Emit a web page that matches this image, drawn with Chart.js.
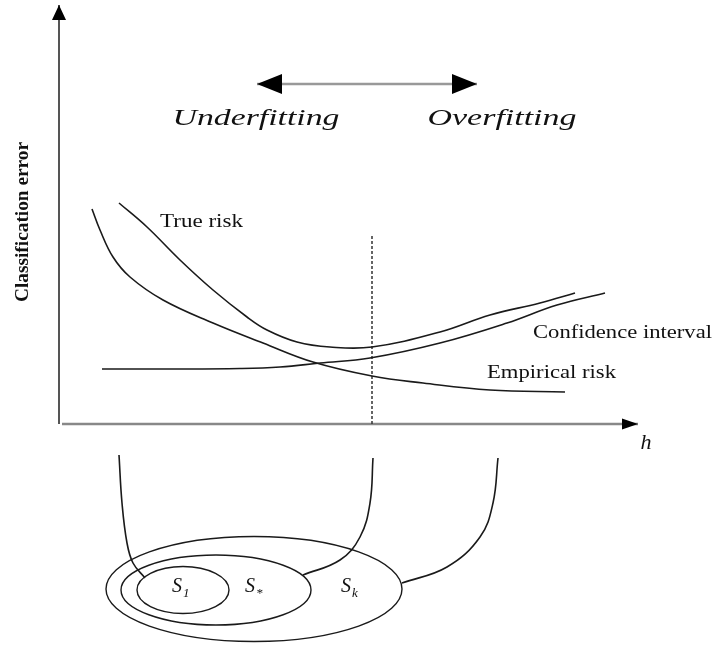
<!DOCTYPE html>
<html lang="en">
<head>
<meta charset="UTF-8">
<title>Structural risk minimisation</title>
<script src="https://cdn.jsdelivr.net/npm/chart.js"></script>
<style>
  body { margin: 0; background: #fff; }
  .wrap { width: 716px; height: 646px; }
</style>
</head>
<body>
<div class="wrap"><canvas id="chart"></canvas></div>
<script>
// h along x, classification error along y (schematic units)
const trueRiskH   = [5.9, 8.7, 12.0, 15.3, 18.7, 20.7, 23.7, 27.0, 31.2, 38.0, 43.0, 48.0, 51.5];
const trueRiskErr = [22.1, 19.7, 16.4, 13.4, 10.7, 9.4, 8.2, 7.7, 7.7, 9.2, 10.9, 12.1, 13.1];

const empRiskH   = [3.2, 4.0, 5.3, 7.0, 10.3, 15.3, 20.3, 25.3, 31.2, 36.3, 43.0, 50.5];
const empRiskErr = [21.5, 19.4, 16.7, 14.7, 12.4, 10.1, 8.1, 6.2, 4.8, 4.1, 3.4, 3.2];

const confH   = [4.2, 11.0, 18.0, 22.0, 26.0, 31.0, 38.0, 44.7, 49.7, 54.5];
const confErr = [5.5, 5.5, 5.55, 5.7, 6.1, 6.6, 8.1, 10.1, 11.9, 13.1];

// best capacity h*
const bestH = 31.2;
const bestTop = 18.8;

// links from h values down to the nested structure
const linkS1H   = [5.9, 6.2, 6.7, 7.3, 8.5];
const linkS1Err = [-3.1, -7.9, -11.9, -13.9, -15.4];
const linkSsH   = [31.3, 31.0, 30.0, 28.0, 24.3];
const linkSsErr = [-3.4, -7.9, -11.3, -13.6, -15.1];
const linkSkH   = [43.8, 43.3, 42.0, 38.7, 34.2];
const linkSkErr = [-3.4, -7.9, -11.3, -14.3, -15.9];

// nested sets S1 ⊂ S* ⊂ Sk
const nestNames   = ['Sk', 'S*', 'S1'];
const nestH       = [19.4, 15.6, 12.3];
const nestErr     = [-16.5, -16.6, -16.6];
const nestSpreadH = [14.8, 9.5, 4.6];
const nestSpreadE = [5.25, 3.5, 2.35];

const zip = (xs, ys) => xs.map((v, i) => ({ x: v, y: ys[i] }));

const notes = [
  { text: 'Underfitting', h: 19.6, err: 29.9, font: 'italic 24px "Liberation Serif"', width: 167, baseline: 'alphabetic' },
  { text: 'Overfitting', h: 44.2, err: 29.9, font: 'italic 24px "Liberation Serif"', width: 149, baseline: 'alphabetic' },
  { text: 'True risk', h: 10.0, err: 20.2, font: '19px "Liberation Serif"', width: 83, align: 'left' },
  { text: 'Confidence interval', h: 47.3, err: 9.1, font: '19px "Liberation Serif"', width: 179, align: 'left' },
  { text: 'Empirical risk', h: 42.7, err: 5.1, font: '19px "Liberation Serif"', width: 129, align: 'left' },
  { text: 'h', h: 58.6, err: -1.9, font: 'italic 22px "Liberation Serif"' },
  { text: 'Classification error', h: -3.7, err: 20.2, font: 'bold 18px "Liberation Serif"', width: 160, rotate: -Math.PI / 2 },
  { text: 'S', sub: '1', h: 11.2, err: -16.3, font: 'italic 20px "Liberation Serif"', align: 'left' },
  { text: 'S', sub: '*', h: 18.5, err: -16.3, font: 'italic 20px "Liberation Serif"', align: 'left' },
  { text: 'S', sub: 'k', h: 28.1, err: -16.3, font: 'italic 20px "Liberation Serif"', align: 'left' }
];

const textPlugin = {
  id: 'texts',
  afterDatasetsDraw(chart) {
    const { ctx, scales: { x, y } } = chart;
    notes.forEach(n => {
      ctx.save();
      ctx.translate(x.getPixelForValue(n.h), y.getPixelForValue(n.err));
      if (n.rotate) ctx.rotate(n.rotate);
      ctx.font = n.font;
      ctx.fillStyle = '#111';
      ctx.textAlign = n.align || 'center';
      ctx.textBaseline = n.baseline || 'middle';
      const w = ctx.measureText(n.text).width;
      if (n.width) ctx.scale(n.width / w, 1);
      ctx.fillText(n.text, 0, 0);
      if (n.sub) {
        ctx.font = 'italic 13px "Liberation Serif"';
        ctx.textAlign = 'left';
        ctx.fillText(n.sub, w + 1, 7);
      }
      ctx.restore();
    });
  }
};

const arrowPlugin = {
  id: 'arrows',
  afterDatasetsDraw(chart) {
    const ctx = chart.ctx;
    chart.data.datasets.forEach((ds, i) => {
      if (!ds.heads) return;
      const pts = chart.getDatasetMeta(i).data;
      ds.heads.forEach(hd => {
        const a = hd.at === 'end' ? pts[pts.length - 2] : pts[1];
        const b = hd.at === 'end' ? pts[pts.length - 1] : pts[0];
        ctx.save();
        ctx.translate(b.x, b.y);
        ctx.rotate(Math.atan2(b.y - a.y, b.x - a.x));
        ctx.beginPath();
        ctx.moveTo(0, 0);
        ctx.lineTo(-hd.len, -hd.half);
        ctx.lineTo(-hd.len, hd.half);
        ctx.closePath();
        ctx.fillStyle = '#000';
        ctx.fill();
        ctx.restore();
      });
    });
  }
};

const nestPlugin = {
  id: 'nest',
  afterDatasetsDraw(chart) {
    const { ctx, scales: { x, y } } = chart;
    ctx.save();
    ctx.strokeStyle = '#1a1a1a';
    ctx.lineWidth = 1.4;
    nestNames.forEach((name, i) => {
      const cx = x.getPixelForValue(nestH[i]);
      const cy = y.getPixelForValue(nestErr[i]);
      const rx = x.getPixelForValue(nestH[i] + nestSpreadH[i]) - cx;
      const ry = cy - y.getPixelForValue(nestErr[i] + nestSpreadE[i]);
      ctx.beginPath();
      ctx.ellipse(cx, cy, rx, ry, 0, 0, Math.PI * 2);
      ctx.stroke();
    });
    ctx.restore();
  }
};

const curve = (data, extra) => Object.assign({
  data, showLine: true, borderColor: '#1a1a1a', borderWidth: 1.6,
  pointRadius: 0, fill: false, tension: 0.4
}, extra);

new Chart(document.getElementById('chart'), {
  type: 'scatter',
  data: {
    datasets: [
      curve(zip(trueRiskH, trueRiskErr)),
      curve(zip(empRiskH, empRiskErr)),
      curve(zip(confH, confErr)),
      curve([{ x: bestH, y: 0 }, { x: bestH, y: bestTop }], { borderDash: [3, 2], borderWidth: 1.5, borderColor: '#333', tension: 0 }),
      curve(zip(linkS1H, linkS1Err)),
      curve(zip(linkSsH, linkSsErr)),
      curve(zip(linkSkH, linkSkErr)),
      // axes
      curve([{ x: -0.1, y: 0 }, { x: -0.1, y: 41.9 }], { borderColor: '#555', borderWidth: 2, tension: 0, heads: [{ at: 'end', len: 15, half: 7 }] }),
      curve([{ x: 0.2, y: 0 }, { x: 57.8, y: 0 }], { borderColor: '#888', borderWidth: 2.5, tension: 0, heads: [{ at: 'end', len: 16, half: 5.5 }] }),
      // underfitting / overfitting arrow
      curve([{ x: 19.7, y: 34.0 }, { x: 41.7, y: 34.0 }], { borderColor: '#999', borderWidth: 2.5, tension: 0, heads: [{ at: 'start', len: 25, half: 10 }, { at: 'end', len: 25, half: 10 }] })
    ]
  },
  options: {
    responsive: true,
    maintainAspectRatio: false,
    animation: false,
    events: [],
    layout: { padding: 0 },
    plugins: { legend: { display: false }, tooltip: { enabled: false } },
    scales: {
      x: { type: 'linear', min: -6, max: 65.6, display: false },
      y: { type: 'linear', min: -22.2, max: 42.4, display: false }
    }
  },
  plugins: [nestPlugin, arrowPlugin, textPlugin]
});
</script>
</body>
</html>
